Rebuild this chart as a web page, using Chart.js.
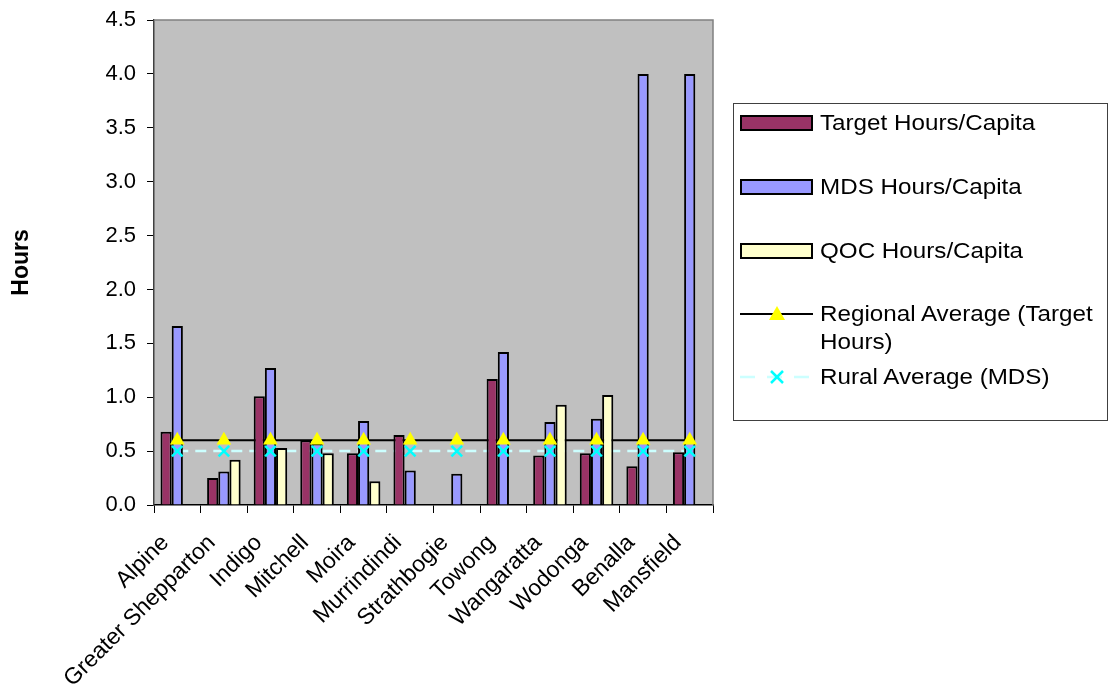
<!DOCTYPE html>
<html>
<head>
<meta charset="utf-8">
<script src="https://cdn.jsdelivr.net/npm/chart.js@4.4.1/dist/chart.umd.min.js"></script>
<style>
  html, body { margin: 0; padding: 0; background: #ffffff; }
  #wrap { position: relative; width: 1110px; height: 695px; }
  #chart { position: absolute; left: 0; top: 0; }
  #legend {
    position: absolute; left: 733px; top: 103px; width: 375px; height: 318px;
    border: 1px solid #404040; box-sizing: border-box;
    font-family: "Liberation Sans", Arial, sans-serif; font-size: 22px; color: #000;
  }
  .row { position: absolute; left: 6px; }
  .sw { position: absolute; left: 0; width: 73px; }
  .box { height: 12px; border: 2px solid #000; box-sizing: content-box; width: 69px; }
  .txt { position: absolute; left: 80px; white-space: nowrap; transform: scaleX(1.1); transform-origin: left center; line-height: 28px; }
</style>
</head>
<body>
<div id="wrap">
  <canvas id="chart" width="1110" height="695"></canvas>
  <div id="legend"></div>
</div>
<script>
// Hours per capita by local government area
const categories = ['Alpine', 'Greater Shepparton', 'Indigo', 'Mitchell', 'Moira', 'Murrindindi',
                    'Strathbogie', 'Towong', 'Wangaratta', 'Wodonga', 'Benalla', 'Mansfield'];
const targetHours = [0.68, 0.25, 1.01, 0.60, 0.48, 0.65, null, 1.17, 0.46, 0.48, 0.36, 0.49];
const mdsHours    = [1.66, 0.31, 1.27, 0.57, 0.78, 0.32, 0.29, 1.42, 0.77, 0.80, 4.00, 4.00];
const qocHours    = [null, 0.42, 0.53, 0.48, 0.22, null, null, null, 0.93, 1.02, null, null];
const regionalAverage = [0.60, 0.60, 0.60, 0.60, 0.60, 0.60, 0.60, 0.60, 0.60, 0.60, 0.60, 0.60];
const ruralAverage    = [0.50, 0.50, 0.50, 0.50, 0.50, 0.50, 0.50, 0.50, 0.50, 0.50, 0.50, 0.50];
const yTicks = [0, 0.5, 1.0, 1.5, 2.0, 2.5, 3.0, 3.5, 4.0, 4.5];

const seriesNames = ['Target Hours/Capita', 'MDS Hours/Capita', 'QOC Hours/Capita',
                     'Regional Average (Target Hours)', 'Rural Average (MDS)'];

const FONT = '"Liberation Sans", Arial, sans-serif';

// grey plot area with a thin frame on top and right
const plotFrame = {
  id: 'plotFrame',
  beforeDraw(chart) {
    const { ctx, chartArea: a } = chart;
    ctx.save();
    ctx.fillStyle = '#C0C0C0';
    ctx.fillRect(a.left, a.top, a.right - a.left, a.bottom - a.top);
    ctx.restore();
  },
  afterDraw(chart) {
    const { ctx, chartArea: a } = chart;
    ctx.save();
    ctx.strokeStyle = '#808080';
    ctx.lineWidth = 1.5;
    ctx.beginPath();
    ctx.moveTo(a.left, a.top);
    ctx.lineTo(a.right, a.top);
    ctx.lineTo(a.right, a.bottom);
    ctx.stroke();
    ctx.restore();
  }
};

const barCommon = { categoryPercentage: 0.72, barPercentage: 1.0, borderColor: '#000000', borderWidth: 2, order: 2 };

new Chart(document.getElementById('chart'), {
  data: {
    labels: categories,
    datasets: [
      // average lines sit behind the bars
      { type: 'line', label: seriesNames[3], data: regionalAverage, borderColor: '#000000', borderWidth: 2,
        pointRadius: 0, fill: false, order: 3 },
      { type: 'line', label: seriesNames[4], data: ruralAverage, borderColor: '#CCFFFF', borderWidth: 2.5,
        borderDash: [11, 7], pointRadius: 0, fill: false, order: 3 },
      { type: 'bar', label: seriesNames[0], data: targetHours, backgroundColor: '#993366', ...barCommon },
      { type: 'bar', label: seriesNames[1], data: mdsHours, backgroundColor: '#9999FF', ...barCommon },
      { type: 'bar', label: seriesNames[2], data: qocHours, backgroundColor: '#FFFFCC', ...barCommon },
      // markers of the average lines are drawn on top
      { type: 'line', label: seriesNames[3] + ' markers', data: regionalAverage, showLine: false,
        pointStyle: 'triangle', pointRadius: 8.5, pointBackgroundColor: '#FFFF00', pointBorderColor: '#FFFF00',
        pointBorderWidth: 0, order: 1 },
      { type: 'line', label: seriesNames[4] + ' markers', data: ruralAverage, showLine: false,
        pointStyle: 'crossRot', pointRadius: 7.5, pointBorderColor: '#00FFFF', pointBorderWidth: 2.5, order: 1 }
    ]
  },
  options: {
    responsive: false,
    animation: false,
    events: [],
    layout: { padding: { left: 0, right: 397, top: 20, bottom: 0 } },
    plugins: { legend: { display: false }, tooltip: { enabled: false } },
    scales: {
      x: {
        offset: true,
        grid: { offset: true, drawOnChartArea: false, drawTicks: true, tickLength: 8, color: '#000000', lineWidth: 1 },
        border: { color: '#000000', width: 1.5 },
        ticks: { color: '#000000', font: { family: FONT, size: 23, lineHeight: 1 }, minRotation: 45, maxRotation: 45,
                 padding: 18, labelOffset: -12, autoSkip: false },
        afterFit(scale) { scale.height = 190; }
      },
      y: {
        min: 0, max: 4.5,
        afterBuildTicks(scale) { scale.ticks = yTicks.map(v => ({ value: v })); },
        grid: { drawOnChartArea: false, drawTicks: true, tickLength: 7, color: '#000000', lineWidth: 1 },
        border: { color: '#404040', width: 1.5 },
        ticks: { color: '#000000', font: { family: FONT, size: 22, lineHeight: 1 }, padding: 11,
                 callback: v => Number(v).toFixed(1) },
        title: { display: true, text: 'Hours', color: '#000000', font: { family: FONT, size: 23, weight: 'bold' },
                 padding: { top: 8, bottom: 0 } },
        afterFit(scale) { scale.width = 154; scale.paddingTop = 0; }
      }
    }
  },
  plugins: [plotFrame]
});

// legend panel
const legend = document.getElementById('legend');
const legendItems = [
  { name: seriesNames[0], kind: 'box', color: '#993366', y: 19 },
  { name: seriesNames[1], kind: 'box', color: '#9999FF', y: 83 },
  { name: seriesNames[2], kind: 'box', color: '#FFFFCC', y: 147 },
  { name: seriesNames[3], kind: 'tri', y: 210 },
  { name: seriesNames[4], kind: 'cross', y: 273 }
];
legendItems.forEach(item => {
  const row = document.createElement('div');
  row.className = 'row';
  row.style.top = item.y + 'px';
  if (item.kind === 'box') {
    row.innerHTML = '<div class="sw box" style="top:-8px;background:' + item.color + '"></div>';
  } else if (item.kind === 'tri') {
    row.innerHTML = '<svg class="sw" style="top:-10px" width="73" height="20">' +
      '<line x1="0" y1="10" x2="73" y2="10" stroke="#000" stroke-width="2"/>' +
      '<polygon points="37,2 45,16 29,16" fill="#FFFF00"/></svg>';
  } else {
    row.innerHTML = '<svg class="sw" style="top:-10px" width="73" height="20">' +
      '<line x1="0" y1="10" x2="73" y2="10" stroke="#CCFFFF" stroke-width="2.5" stroke-dasharray="15,12"/>' +
      '<line x1="31" y1="4" x2="43" y2="16" stroke="#00FFFF" stroke-width="2.5"/>' +
      '<line x1="43" y1="4" x2="31" y2="16" stroke="#00FFFF" stroke-width="2.5"/></svg>';
  }
  const txt = document.createElement('div');
  txt.className = 'txt';
  txt.style.top = '-14px';
  if (item.kind === 'tri') {
    txt.innerHTML = 'Regional Average (Target<br>Hours)';
  } else {
    txt.textContent = item.name;
  }
  row.appendChild(txt);
  legend.appendChild(row);
});
</script>
</body>
</html>
